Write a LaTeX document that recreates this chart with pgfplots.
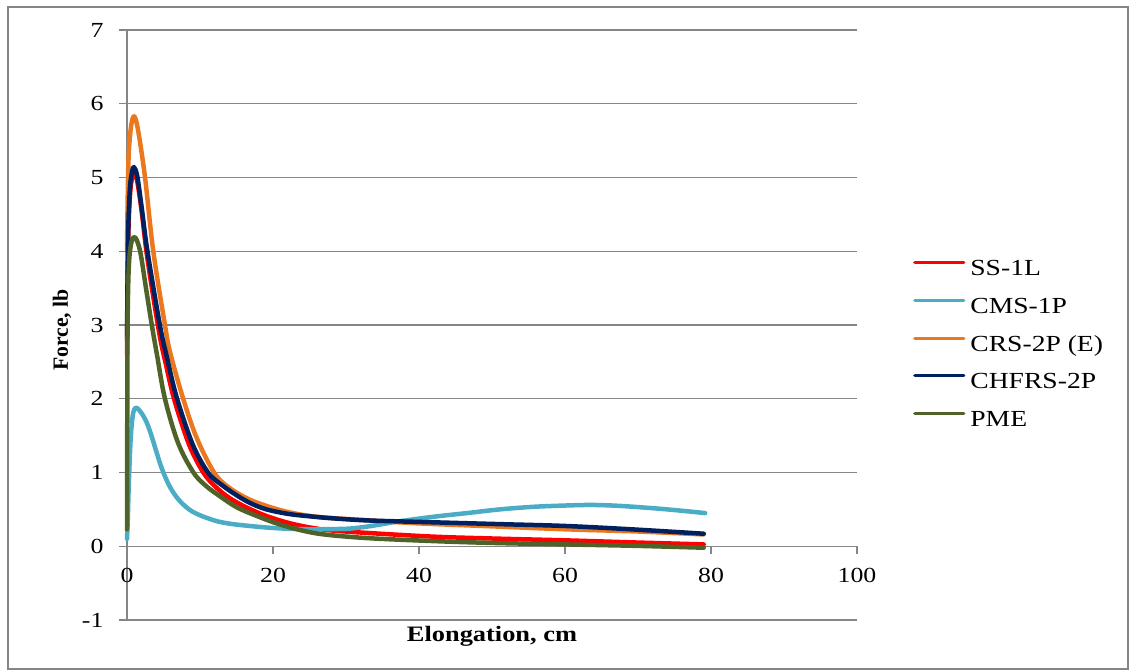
\documentclass[border=0pt]{standalone}
\usepackage{fontspec}
\setmainfont{Liberation Serif}[FakeStretch=1.2]
\newfontfamily\plainserif{Liberation Serif}
\usepackage{pgfplots}
\pgfplotsset{compat=1.18}
\usepackage{pgfplotstable}
\definecolor{axgray}{RGB}{134,134,134}
\definecolor{cred}{RGB}{255,0,0}
\definecolor{ccyan}{RGB}{75,172,198}
\definecolor{corange}{RGB}{235,120,30}
\definecolor{cnavy}{RGB}{0,32,96}
\definecolor{cgreen}{RGB}{79,98,40}

\pgfplotstableread{
x y
0 2.6
0.15 4.1
0.4 4.75
0.7 5.0
1.0 5.07
1.4 4.95
2.0 4.55
2.8 3.9
4.4 2.9
5.3 2.48
6.5 1.98
8.5 1.38
10.45 1.0
12.2 0.80
14.1 0.65
16.5 0.52
19.1 0.41
22 0.32
25 0.255
28 0.215
33 0.18
42 0.13
50 0.105
60 0.08
70 0.05
79 0.025
}\ssone

\pgfplotstableread{
x y
0 0.1
0.1 0.35
0.25 0.85
0.5 1.45
0.8 1.78
1.2 1.88
1.8 1.83
2.5 1.72
3.15 1.56
4 1.29
4.75 1.06
5.8 0.82
7 0.64
8.5 0.50
10 0.42
12.3 0.34
14.5 0.30
16.8 0.275
19 0.255
21.4 0.24
24 0.232
26 0.23
28.5 0.233
30.6 0.24
32.8 0.265
35 0.30
37.4 0.34
42 0.40
46.6 0.45
51.1 0.50
55.7 0.535
60.3 0.553
63.5 0.56
66.5 0.552
69.4 0.535
74 0.50
79.2 0.45
}\cmsone

\pgfplotstableread{
x y
0 4.0
0.18 5.16
0.5 5.65
0.95 5.83
1.5 5.65
2.47 5.0
3.6 4.0
5.2 3.0
5.9 2.63
7.7 2.0
9.5 1.48
11.8 1.02
13.65 0.82
16.85 0.63
21.4 0.48
26 0.40
33.3 0.35
40 0.31
50 0.27
60 0.23
70 0.20
79 0.16
}\crstwo

\pgfplotstableread{
x y
0 2.8
0.15 4.2
0.4 4.85
0.7 5.08
0.95 5.14
1.4 5.02
2.0 4.6
2.8 4.0
4.5 3.0
5.5 2.55
6.8 2.02
9 1.38
11.1 1.0
13 0.83
15.2 0.68
17 0.58
19.1 0.50
22 0.44
24.6 0.41
28 0.38
33 0.35
40 0.33
51 0.30
60 0.275
69 0.23
79 0.17
}\chfrs

\pgfplotstableread{
x y
0 0.23
0.03 1.5
0.08 3.0
0.25 3.8
0.6 4.12
1.1 4.19
1.8 4.0
2.6 3.5
3.4 3.0
4.1 2.6
5.2 2.0
7 1.4
9.1 1.0
10.8 0.82
12.7 0.68
15 0.53
17.8 0.41
20.5 0.31
23.7 0.22
27 0.16
33 0.11
42 0.07
50 0.045
60 0.025
70 0.005
79 -0.02
}\pme

\begin{document}
\begin{tikzpicture}
\path[use as bounding box] (0,0) rectangle (1131bp,670bp);
\draw[axgray, line width=2bp] (8bp,1bp) rectangle (1128bp,663bp);
\begin{axis}[
  at={(127bp,50bp)}, anchor=south west,
  scale only axis, width=730bp, height=590bp,
  xmin=0, xmax=100, ymin=-1, ymax=7,
  clip=false,
  axis x line*=middle, axis y line*=left,
  hide obscured x ticks=false,
  axis line style={axgray, line width=1.2bp},
  xtick={0,20,...,100}, xticklabels={0,20,40,60,80,100},
  ytick={-1,0,...,7}, yticklabels={-1,0,1,2,3,4,5,6,7},
  ymajorgrids, grid style={axgray, line width=1.2bp},
  tick style={axgray, line width=1.2bp},
  xtick align=outside, ytick align=outside,
  major tick length=8bp,
  tick label style={font=\fontsize{21.5bp}{24bp}\selectfont, text=black},
  xticklabel style={yshift=-10bp},
  yticklabel style={xshift=-12bp},
  xlabel={\bfseries Elongation, cm},
  xlabel style={at={(axis description cs:0.5,-0.0271)}, anchor=center, font=\fontsize{22bp}{26bp}\selectfont},
  ylabel={\plainserif\bfseries Force, lb},
  ylabel style={at={(axis description cs:-0.089,0.4915)}, anchor=center, font=\fontsize{21.7bp}{26bp}\selectfont},
  legend style={at={(axis description cs:1.0767,0.465)}, anchor=west, draw=none, fill=none, inner sep=0pt,
    row sep=16.75bp, column sep=5bp, font=\fontsize{23bp}{27bp}\selectfont,
    nodes={text height=16bp, text depth=5bp, inner sep=0pt, outer sep=0pt}},
  legend cell align=left,
  legend image code/.code={\draw[#1, line width=3.2bp] (0bp,7.5bp) -- (49bp,7.5bp);},
  every axis plot/.append style={line width=4.5bp, smooth, tension=0.55, line join=round, line cap=round},
]
\addplot[cred] table[x=x,y=y]{\ssone};
\addlegendentry{SS-1L}
\addplot[ccyan] table[x=x,y=y]{\cmsone};
\addlegendentry{CMS-1P}
\addplot[corange] table[x=x,y=y]{\crstwo};
\addlegendentry{CRS-2P (E)}
\addplot[cnavy] table[x=x,y=y]{\chfrs};
\addlegendentry{CHFRS-2P}
\addplot[cgreen] table[x=x,y=y]{\pme};
\addlegendentry{PME}
\end{axis}
\end{tikzpicture}
\end{document}
